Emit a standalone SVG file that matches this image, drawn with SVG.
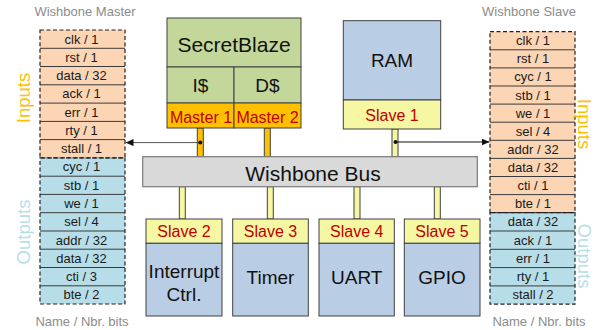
<svg xmlns="http://www.w3.org/2000/svg" width="598" height="330" viewBox="0 0 598 330">
<defs>
<style>
text{font-family:"Liberation Sans",Arial,sans-serif}
.t{font-size:13px;fill:#1a1a1a;text-anchor:middle}
.hd{font-size:13px;fill:#8c8c8c;text-anchor:middle}
.in{fill:#FCD5B5}
.out{fill:#B7DEE8}
.sep{stroke:#3a3a3a;stroke-width:1}
.dash{fill:none;stroke:#222;stroke-width:1.2;stroke-dasharray:4 2.5}
.blk{stroke:#404040;stroke-width:1}
.big{font-size:19px;fill:#111;text-anchor:middle}
.lbl{font-size:16px;fill:#C00000;text-anchor:middle}
.sl{fill:#F5F7A3}
.cpu{fill:#C4D79B}
.mem{fill:#B9CDE5}
.bar-o{fill:#FFC000;stroke:#404040;stroke-width:1}
.bar-y{fill:#F5F7A3;stroke:#404040;stroke-width:1}
.side{font-size:18.5px;text-anchor:middle}
</style>
<marker id="ah" viewBox="0 0 8 7" refX="8" refY="3.5" markerWidth="8" markerHeight="7" markerUnits="userSpaceOnUse" orient="auto">
<path d="M0,0 L8,3.5 L0,7 z" fill="#111"/>
</marker>
</defs>
<rect width="598" height="330" fill="#fff"/>

<g id="master-table">
<text class="hd" x="85" y="16">Wishbone Master</text>
<rect class="in" x="40" y="30" width="85" height="127.9"/>
<rect class="out" x="40" y="157.9" width="85" height="146.1"/>
<g class="sep">
<line x1="40" x2="125" y1="48.3" y2="48.3"/><line x1="40" x2="125" y1="66.5" y2="66.5"/>
<line x1="40" x2="125" y1="84.8" y2="84.8"/><line x1="40" x2="125" y1="103.1" y2="103.1"/>
<line x1="40" x2="125" y1="121.4" y2="121.4"/><line x1="40" x2="125" y1="139.6" y2="139.6"/>
<line x1="40" x2="125" y1="176.2" y2="176.2"/><line x1="40" x2="125" y1="194.4" y2="194.4"/>
<line x1="40" x2="125" y1="212.7" y2="212.7"/><line x1="40" x2="125" y1="231" y2="231"/>
<line x1="40" x2="125" y1="249.2" y2="249.2"/><line x1="40" x2="125" y1="267.5" y2="267.5"/>
<line x1="40" x2="125" y1="285.8" y2="285.8"/>
</g>
<rect class="dash" x="40" y="30" width="85" height="127.9"/>
<rect class="dash" x="40" y="157.9" width="85" height="146.1"/>
<text class="t" x="81.5" y="43.5">clk / 1</text>
<text class="t" x="81.5" y="61.8">rst / 1</text>
<text class="t" x="81.5" y="80">data / 32</text>
<text class="t" x="81.5" y="98.3">ack / 1</text>
<text class="t" x="81.5" y="116.6">err / 1</text>
<text class="t" x="81.5" y="134.9">rty / 1</text>
<text class="t" x="81.5" y="153.1">stall / 1</text>
<text class="t" x="81.5" y="171.4">cyc / 1</text>
<text class="t" x="81.5" y="189.7">stb / 1</text>
<text class="t" x="81.5" y="207.9">we / 1</text>
<text class="t" x="81.5" y="226.2">sel / 4</text>
<text class="t" x="81.5" y="244.5">addr / 32</text>
<text class="t" x="81.5" y="262.7">data / 32</text>
<text class="t" x="81.5" y="281">cti / 3</text>
<text class="t" x="81.5" y="299.3">bte / 2</text>
<text class="side" fill="#FFC000" transform="translate(30 98) rotate(-90)">Inputs</text>
<text class="side" fill="#B7DEE8" transform="translate(30 232) rotate(-90)">Outputs</text>
<text class="hd" x="82" y="326">Name / Nbr. bits</text>
</g>

<g id="slave-table">
<text class="hd" x="529" y="16">Wishbone Slave</text>
<rect class="in" x="490" y="31.7" width="85" height="181"/>
<rect class="out" x="490" y="212.7" width="85" height="91.5"/>
<g class="sep">
<line x1="490" x2="575" y1="49.8" y2="49.8"/><line x1="490" x2="575" y1="67.9" y2="67.9"/>
<line x1="490" x2="575" y1="86" y2="86"/><line x1="490" x2="575" y1="104.1" y2="104.1"/>
<line x1="490" x2="575" y1="122.2" y2="122.2"/><line x1="490" x2="575" y1="140.3" y2="140.3"/>
<line x1="490" x2="575" y1="158.4" y2="158.4"/><line x1="490" x2="575" y1="176.5" y2="176.5"/>
<line x1="490" x2="575" y1="194.6" y2="194.6"/>
<line x1="490" x2="575" y1="231" y2="231"/><line x1="490" x2="575" y1="249.3" y2="249.3"/>
<line x1="490" x2="575" y1="267.6" y2="267.6"/><line x1="490" x2="575" y1="285.9" y2="285.9"/>
</g>
<rect class="dash" x="490" y="31.7" width="85" height="181"/>
<rect class="dash" x="490" y="212.7" width="85" height="91.5"/>
<text class="t" x="533" y="45.2">clk / 1</text>
<text class="t" x="533" y="63.3">rst / 1</text>
<text class="t" x="533" y="81.4">cyc / 1</text>
<text class="t" x="533" y="99.5">stb / 1</text>
<text class="t" x="533" y="117.6">we / 1</text>
<text class="t" x="533" y="135.7">sel / 4</text>
<text class="t" x="533" y="153.8">addr / 32</text>
<text class="t" x="533" y="171.9">data / 32</text>
<text class="t" x="533" y="190">cti / 1</text>
<text class="t" x="533" y="208.1">bte / 1</text>
<text class="t" x="533" y="226.2">data / 32</text>
<text class="t" x="533" y="244.5">ack / 1</text>
<text class="t" x="533" y="262.8">err / 1</text>
<text class="t" x="533" y="281.1">rty / 1</text>
<text class="t" x="533" y="299.4">stall / 2</text>
<text class="side" fill="#FFC000" transform="translate(578 124) rotate(90)">Inputs</text>
<text class="side" fill="#B7DEE8" transform="translate(578 256) rotate(90)">Outputs</text>
<text class="hd" x="539" y="326">Name / Nbr. bits</text>
</g>

<g id="connectors">
<rect class="bar-o" x="197.3" y="128" width="6" height="29"/>
<rect class="bar-o" x="264.3" y="128" width="6" height="29"/>
<rect class="bar-y" x="392" y="129" width="6" height="28"/>
<rect class="bar-y" x="179.3" y="186.7" width="6" height="32.3"/>
<rect class="bar-y" x="267.3" y="186.7" width="6" height="32.3"/>
<rect class="bar-y" x="354" y="186.7" width="6" height="32.3"/>
<rect class="bar-y" x="434.3" y="186.7" width="6" height="32.3"/>
<line x1="200.3" y1="142.6" x2="125.5" y2="142.6" stroke="#555" stroke-width="1" marker-end="url(#ah)"/>
<circle cx="200.3" cy="142.6" r="2" fill="#111"/>
<line x1="395.5" y1="142" x2="489.5" y2="142" stroke="#111" stroke-width="1" marker-end="url(#ah)"/>
<circle cx="395.5" cy="142" r="2" fill="#111"/>
</g>

<g id="secretblaze">
<rect class="cpu blk" x="167" y="18" width="134" height="49"/>
<rect class="cpu blk" x="167" y="67" width="67" height="36"/>
<rect class="cpu blk" x="234" y="67" width="67" height="36"/>
<rect fill="#FFC000" class="blk" x="167" y="103" width="67" height="25"/>
<rect fill="#FFC000" class="blk" x="234" y="103" width="67" height="25"/>
<text class="big" x="234" y="52" style="font-size:21px">SecretBlaze</text>
<text class="big" x="200.5" y="91.5">I$</text>
<text class="big" x="267.5" y="91.5">D$</text>
<text class="lbl" x="201" y="123">Master 1</text>
<text class="lbl" x="267.5" y="123">Master 2</text>
</g>

<g id="ram">
<rect class="mem blk" x="343.3" y="20.7" width="97.4" height="79.3"/>
<rect class="sl blk" x="343.3" y="100" width="97.4" height="29"/>
<text class="big" x="392" y="67">RAM</text>
<text class="lbl" x="392" y="120.5">Slave 1</text>
</g>

<g id="bus">
<rect fill="#D9D9D9" stroke="#7a7a7a" stroke-width="1.2" x="142.7" y="156.7" width="334.6" height="30"/>
<text class="big" x="313" y="181" style="font-size:21px">Wishbone Bus</text>
</g>

<g id="interrupt">
<rect class="sl blk" x="146" y="219" width="76" height="24.3"/>
<rect class="mem blk" x="146" y="243.3" width="76" height="72.7"/>
<text class="lbl" x="184" y="236.7">Slave 2</text>
<text class="big" x="184" y="278.3">Interrupt</text>
<text class="big" x="184" y="300.5">Ctrl.</text>
</g>

<g id="timer">
<rect class="sl blk" x="232.7" y="219" width="75.6" height="24.3"/>
<rect class="mem blk" x="232.7" y="243.3" width="75.6" height="72.7"/>
<text class="lbl" x="270.5" y="236.7">Slave 3</text>
<text class="big" x="270.5" y="284">Timer</text>
</g>

<g id="uart">
<rect class="sl blk" x="319" y="219" width="75.3" height="24.3"/>
<rect class="mem blk" x="319" y="243.3" width="75.3" height="72.7"/>
<text class="lbl" x="356.7" y="236.7">Slave 4</text>
<text class="big" x="356.7" y="284">UART</text>
</g>

<g id="gpio">
<rect class="sl blk" x="404.3" y="219" width="75.7" height="24.3"/>
<rect class="mem blk" x="404.3" y="243.3" width="75.7" height="72.7"/>
<text class="lbl" x="442" y="236.7">Slave 5</text>
<text class="big" x="442" y="284">GPIO</text>
</g>
</svg>
